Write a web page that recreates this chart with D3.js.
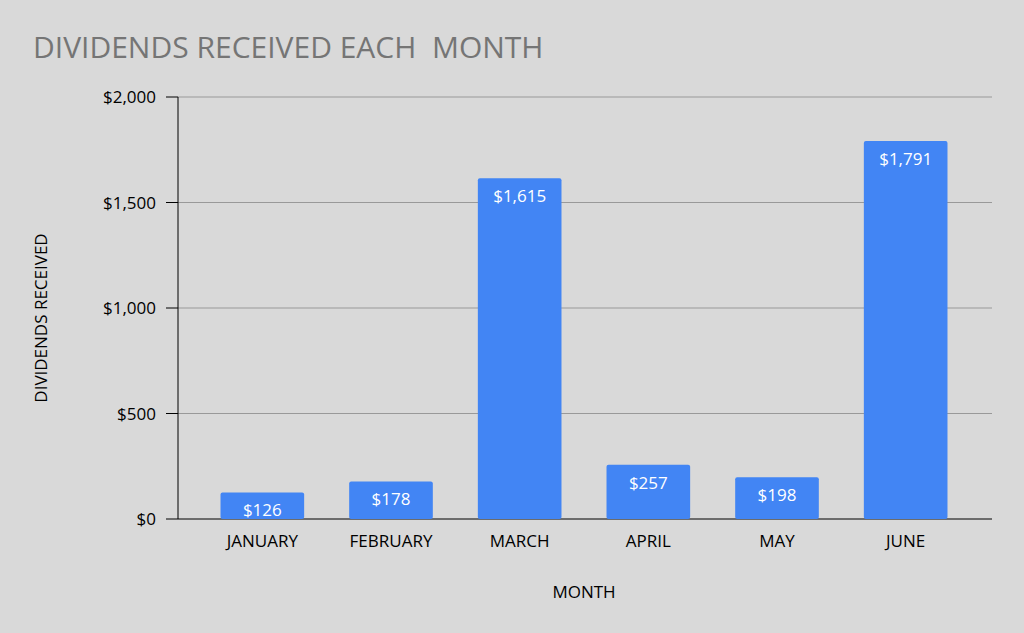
<!DOCTYPE html><html><head><script src="https://cdn.jsdelivr.net/npm/d3@7"></script>
<style>body{margin:0;background:#d9d9d9}text{font-family:"Open Sans","DejaVu Sans",sans-serif}</style></head><body>
<svg width="1024" height="633"></svg>
<script>
const months=["JANUARY","FEBRUARY","MARCH","APRIL","MAY","JUNE"];
const values=[126,178,1615,257,198,1791];
const yTicks=[0,500,1000,1500,2000];
const svg=d3.select("svg");
svg.append("rect").attr("width",1024).attr("height",633).attr("fill","#d9d9d9");
const x=d3.scaleBand().domain(months).range([198,970]).paddingInner(0.35).paddingOuter(0.175);
const y=d3.scaleLinear().domain([0,2000]).range([519,97]);
svg.selectAll(".g").data(yTicks.slice(1)).enter().append("line").attr("x1",178).attr("x2",992).attr("y1",d=>y(d)).attr("y2",d=>y(d)).attr("stroke","#999").attr("stroke-width",1);
svg.append("line").attr("x1",178).attr("x2",992).attr("y1",y(0)).attr("y2",y(0)).attr("stroke","#000");
svg.append("line").attr("x1",178).attr("x2",178).attr("y1",y(0)).attr("y2",y(2000)).attr("stroke","#000");
svg.selectAll(".t").data(yTicks).enter().append("line").attr("x1",166).attr("x2",178).attr("y1",d=>y(d)).attr("y2",d=>y(d)).attr("stroke","#000");
svg.selectAll(".yl").data(yTicks).enter().append("text").attr("x",156).attr("y",d=>y(d)+6).attr("text-anchor","end").attr("font-size",17).text(d=>d3.format("$,")(d));
svg.selectAll(".b").data(values).enter().append("rect").attr("x",(d,i)=>x(months[i])).attr("width",x.bandwidth()).attr("y",d=>y(d)).attr("height",d=>y(0)-y(d)).attr("fill","#4285f4").attr("rx",2);
svg.selectAll(".v").data(values).enter().append("text").attr("x",(d,i)=>x(months[i])+x.bandwidth()/2).attr("y",d=>y(d)+24).attr("text-anchor","middle").attr("fill","#fff").attr("font-size",17).text(d=>d3.format("$,")(d));
svg.selectAll(".xl").data(months).enter().append("text").attr("x",d=>x(d)+x.bandwidth()/2).attr("y",547).attr("text-anchor","middle").attr("font-size",17).text(d=>d);
svg.append("text").attr("x",584).attr("y",598).attr("text-anchor","middle").attr("font-size",17).text("MONTH");
svg.append("text").attr("transform","translate(47,318) rotate(-90)").attr("text-anchor","middle").attr("font-size",17).text("DIVIDENDS RECEIVED");
svg.append("text").attr("x",33).attr("y",58).attr("font-size",30).attr("fill","#757575").attr("xml:space","preserve").text("DIVIDENDS RECEIVED EACH  MONTH");
</script></body></html>
